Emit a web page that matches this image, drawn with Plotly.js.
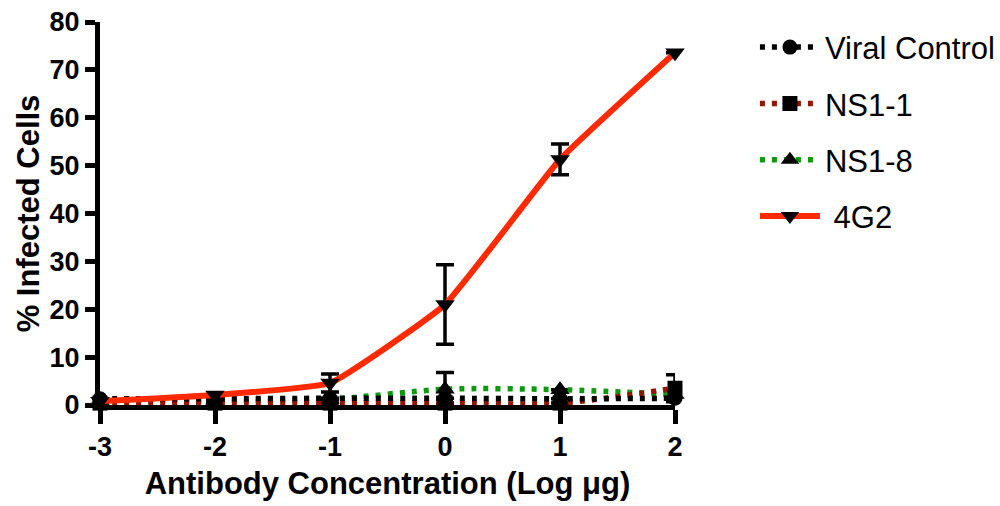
<!DOCTYPE html>
<html>
<head>
<meta charset="utf-8">
<script src="https://cdn.plot.ly/plotly-3.0.1.min.js"></script>
<style>html,body{margin:0;padding:0;background:#fff;}#chart{width:1000px;height:506px;}</style>
</head>
<body>
<div id="chart"></div>
<script>
const logConc = [-3, -2, -1, 0, 1, 2];
const viralControl = [1.3, 1.3, 1.4, 1.4, 1.3, 1.4];
const viralControlErr = [0, 0, 0, 0, 0, 0];
const ns1_1 = [0.4, 0.4, 0.4, 0.4, 0.4, 3.5];
const ns1_1Err = [0, 0, 0, 0, 0, 2.8];
const ns1_8 = [1.0, 1.0, 1.2, 3.3, 3.2, 2.2];
const ns1_8Err = [0, 0, 0, 3.5, 0, 0];
const g4g2 = [0.8, 2.1, 4.6, 21.0, 51.3, 73.6];
const g4g2Err = [0, 0, 1.9, 8.3, 3.2, 0];
const seriesNames = ['Viral Control', 'NS1-1', 'NS1-8', ' 4G2'];
const xTicks = [-3, -2, -1, 0, 1, 2];
const yTicks = [0, 10, 20, 30, 40, 50, 60, 70, 80];

const FONT = 'Liberation Sans, Arial, sans-serif';
const errStyle = (arr) => ({type: 'data', array: arr, visible: true, color: '#000', thickness: 3.5, width: 9});
const dotted = '5px,7px';

const traces = [
  {x: logConc, y: ns1_8, name: seriesNames[2], mode: 'lines+markers', type: 'scatter', legendgroup: 'c', legendrank: 3,
   line: {color: '#0a9a0a', width: 5.5, dash: dotted, shape: 'spline', smoothing: 0.8},
   marker: {symbol: 'triangle-up', size: 17, color: '#000'}, error_y: errStyle(ns1_8Err), cliponaxis: false},
  {x: logConc, y: ns1_1, name: seriesNames[1], mode: 'lines+markers', type: 'scatter', legendgroup: 'b', legendrank: 2,
   line: {color: '#951500', width: 5.5, dash: dotted, shape: 'spline', smoothing: 0.8},
   marker: {symbol: 'square', size: 15, color: '#000'}, error_y: errStyle(ns1_1Err), cliponaxis: false},
  {x: logConc, y: viralControl, name: seriesNames[0], mode: 'lines+markers', type: 'scatter', legendgroup: 'a', legendrank: 1,
   line: {color: '#000', width: 5.5, dash: dotted, shape: 'spline', smoothing: 0.8},
   marker: {symbol: 'circle', size: 15, color: '#000'}, error_y: errStyle(viralControlErr), cliponaxis: false},
  {x: logConc, y: g4g2, name: seriesNames[3], mode: 'lines+markers', type: 'scatter', legendgroup: 'd', legendrank: 4,
   line: {color: '#ff2a00', width: 6, shape: 'spline', smoothing: 0.35},
   marker: {symbol: 'triangle-down', size: 17, color: '#000'}, error_y: errStyle(g4g2Err), cliponaxis: false}
];

const layout = {
  width: 1000, height: 506,
  margin: {l: 100, r: 325, t: 22, b: 101, autoexpand: false},
  paper_bgcolor: '#fff', plot_bgcolor: '#fff',
  font: {family: FONT, color: '#000'},
  showlegend: true,
  legend: {x: 1.139, y: 1.004, xanchor: 'left', yanchor: 'top', traceorder: 'grouped', tracegroupgap: 13,
           itemwidth: 60,
           font: {size: 31, family: FONT, color: '#000'}, bgcolor: 'rgba(0,0,0,0)'},
  xaxis: {
    range: [-3, 2], tickvals: xTicks, ticktext: xTicks.map(String),
    showgrid: false, zeroline: false, showline: true, linecolor: '#000', linewidth: 5,
    ticks: 'outside', ticklen: 14, tickwidth: 5, tickcolor: '#000',
    tickfont: {size: 27, family: FONT, weight: 'bold', color: '#000'},
    title: {text: '<b>Antibody Concentration (Log μg)</b>', standoff: 12,
            font: {size: 31, family: FONT, color: '#000'}},
    automargin: false
  },
  yaxis: {
    range: [0, 80], tickvals: yTicks, ticktext: yTicks.map(String),
    showgrid: false, zeroline: false, showline: true, linecolor: '#000', linewidth: 5,
    ticks: 'outside', ticklen: 10, tickwidth: 5, tickcolor: '#000',
    tickfont: {size: 27, family: FONT, weight: 'bold', color: '#000'},
    title: {text: '<b>% Infected Cells</b>', standoff: 2,
            font: {size: 31, family: FONT, color: '#000'}},
    automargin: false
  }
};

Plotly.newPlot('chart', traces, layout, {displayModeBar: false, staticPlot: true});
</script>
</body>
</html>
